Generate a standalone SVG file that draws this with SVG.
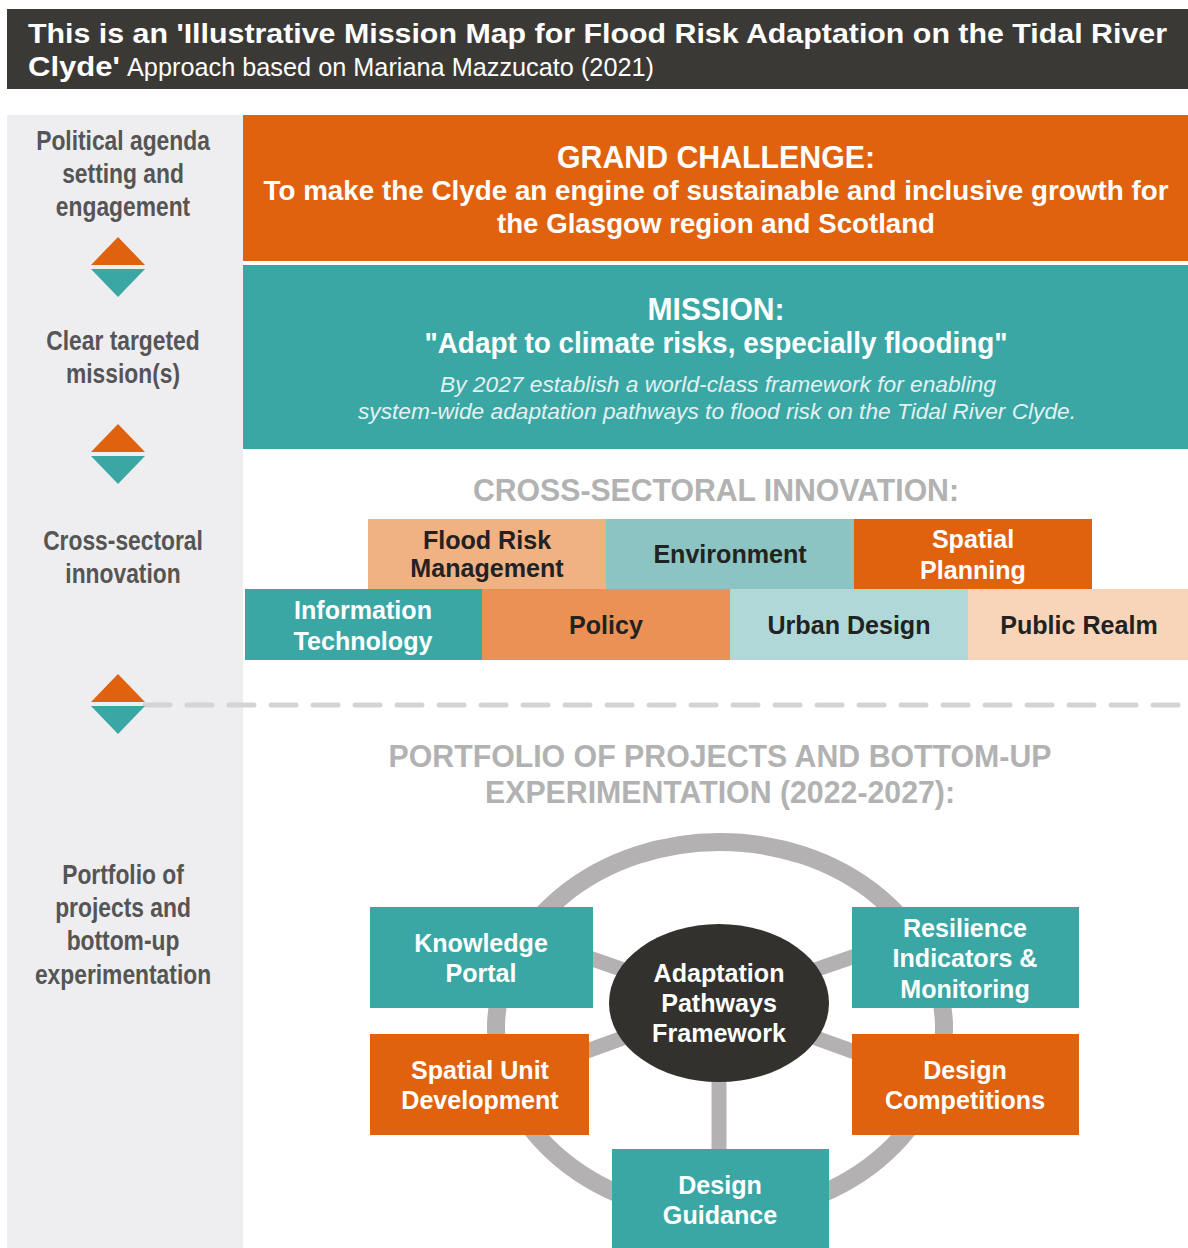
<svg xmlns="http://www.w3.org/2000/svg" width="1188" height="1248" viewBox="0 0 1188 1248">
<style>
.n{font-family:"Liberation Sans",Arial,sans-serif;font-weight:bold;text-anchor:middle}
.w{fill:#ffffff}
.d{fill:#222222}
.lbl{fill:#555555;font-size:28px}
.hd{fill:#b2b2b2;font-size:31px}
.bx{font-size:26px}
.teal{fill:#3aa7a5}
.orange{fill:#e0620e}
.ring{stroke:#b3b1b1;stroke-width:18;fill:none}
.spoke{stroke:#b3b1b1;stroke-width:15;fill:none}
</style>
<defs>
<g id="diamond">
<polygon points="-27,0 27,0 0,-28" fill="#e0620e"/>
<polygon points="-27,4 27,4 0,32" fill="#3aa7a5"/>
</g>
</defs>
<rect x="0" y="0" width="1188" height="1248" fill="#ffffff"/>
<g id="header">
<rect x="7" y="9" width="1181" height="80" fill="#3b3936"/>
<text x="28" y="43" font-family="Liberation Sans,Arial,sans-serif" font-weight="bold" font-size="27" fill="#ffffff" textLength="1139" lengthAdjust="spacingAndGlyphs">This is an 'Illustrative Mission Map for Flood Risk Adaptation on the Tidal River</text>
<text x="28" y="76" font-family="Liberation Sans,Arial,sans-serif" font-weight="bold" font-size="27" fill="#ffffff" textLength="92" lengthAdjust="spacingAndGlyphs">Clyde'</text>
<text x="127" y="76" font-family="Liberation Sans,Arial,sans-serif" font-size="25" fill="#ffffff" textLength="527" lengthAdjust="spacingAndGlyphs">Approach based on Mariana Mazzucato (2021)</text>
</g>
<g id="left-column">
<rect x="7" y="115" width="236" height="1133" fill="#eeeef0"/>
<g id="label-political" class="n lbl" transform="translate(123,0) scale(0.815,1)">
<text x="0" y="150">Political agenda</text>
<text x="0" y="183">setting and</text>
<text x="0" y="216">engagement</text>
</g>
<g id="label-mission" class="n lbl" transform="translate(123,0) scale(0.815,1)">
<text x="0" y="350">Clear targeted</text>
<text x="0" y="383">mission(s)</text>
</g>
<g id="label-cross" class="n lbl" transform="translate(123,0) scale(0.815,1)">
<text x="0" y="550">Cross-sectoral</text>
<text x="0" y="583">innovation</text>
</g>
<g id="label-portfolio" class="n lbl" transform="translate(123,0) scale(0.815,1)">
<text x="0" y="884">Portfolio of</text>
<text x="0" y="917">projects and</text>
<text x="0" y="950">bottom-up</text>
<text x="0" y="984">experimentation</text>
</g>
</g>
<line x1="145" y1="705" x2="1188" y2="705" stroke="#d4d4d6" stroke-width="5" stroke-dasharray="25,17" stroke-linecap="round"/>
<g id="diamonds">
<use href="#diamond" x="118" y="265"/>
<use href="#diamond" x="118" y="452"/>
<use href="#diamond" x="118" y="702"/>
</g>
<g id="grand-challenge">
<rect x="243" y="115" width="945" height="146" class="orange"/>
<text class="n w" x="716" y="168" font-size="32" textLength="318" lengthAdjust="spacingAndGlyphs">GRAND CHALLENGE:</text>
<text class="n w" x="716" y="200" font-size="28" textLength="905" lengthAdjust="spacingAndGlyphs">To make the Clyde an engine of sustainable and inclusive growth for</text>
<text class="n w" x="716" y="233" font-size="28" textLength="438" lengthAdjust="spacingAndGlyphs">the Glasgow region and Scotland</text>
</g>
<g id="mission">
<rect x="243" y="265" width="945" height="184" class="teal"/>
<text class="n w" x="716" y="320" font-size="32" textLength="137" lengthAdjust="spacingAndGlyphs">MISSION:</text>
<text class="n w" x="716" y="353" font-size="30" textLength="583" lengthAdjust="spacingAndGlyphs">"Adapt to climate risks, especially flooding"</text>
<text x="718" y="392" font-family="Liberation Sans,Arial,sans-serif" font-style="italic" font-size="22" fill="#e3f1f1" text-anchor="middle" textLength="556" lengthAdjust="spacingAndGlyphs">By 2027 establish a world-class framework for enabling</text>
<text x="717" y="419" font-family="Liberation Sans,Arial,sans-serif" font-style="italic" font-size="22" fill="#e3f1f1" text-anchor="middle" textLength="718" lengthAdjust="spacingAndGlyphs">system-wide adaptation pathways to flood risk on the Tidal River Clyde.</text>
</g>
<g id="cross-sectoral-title">
<text class="n hd" x="716" y="501" textLength="486" lengthAdjust="spacingAndGlyphs">CROSS-SECTORAL INNOVATION:</text>
</g>
<g id="flood-risk-management">
<rect x="368" y="519" width="238" height="70" fill="#f0b183"/>
<g class="n d bx" transform="translate(487,0) scale(0.965,1)">
<text x="0" y="549">Flood Risk</text>
<text x="0" y="577">Management</text>
</g>
</g>
<g id="environment">
<rect x="606" y="519" width="248" height="70" fill="#8cc4c3"/>
<g class="n d bx" transform="translate(730,0) scale(0.965,1)">
<text x="0" y="563">Environment</text>
</g>
</g>
<g id="spatial-planning">
<rect x="854" y="519" width="238" height="70" class="orange"/>
<g class="n w bx" transform="translate(973,0) scale(0.965,1)">
<text x="0" y="548">Spatial</text>
<text x="0" y="579">Planning</text>
</g>
</g>
<g id="information-technology">
<rect x="245" y="589" width="237" height="71" class="teal"/>
<g class="n w bx" transform="translate(363,0) scale(0.965,1)">
<text x="0" y="619">Information</text>
<text x="0" y="650">Technology</text>
</g>
</g>
<g id="policy">
<rect x="482" y="589" width="248" height="71" fill="#eb9155"/>
<g class="n d bx" transform="translate(606,0) scale(0.965,1)">
<text x="0" y="634">Policy</text>
</g>
</g>
<g id="urban-design">
<rect x="730" y="589" width="238" height="71" fill="#b1d8d8"/>
<g class="n d bx" transform="translate(849,0) scale(0.965,1)">
<text x="0" y="634">Urban Design</text>
</g>
</g>
<g id="public-realm">
<rect x="968" y="589" width="220" height="71" fill="#f8d5b9"/>
<g class="n d bx" transform="translate(1079,0) scale(0.965,1)">
<text x="0" y="634">Public Realm</text>
</g>
</g>
<g id="portfolio-title">
<text class="n hd" x="720" y="767" textLength="663" lengthAdjust="spacingAndGlyphs">PORTFOLIO OF PROJECTS AND BOTTOM-UP</text>
<text class="n hd" x="720" y="803" textLength="470" lengthAdjust="spacingAndGlyphs">EXPERIMENTATION (2022-2027):</text>
</g>
<g id="connectors">
<ellipse cx="720" cy="1028" rx="224" ry="186" class="ring"/>
<line x1="719" y1="1003" x2="480" y2="920" class="spoke"/>
<line x1="719" y1="1003" x2="960" y2="920" class="spoke"/>
<line x1="719" y1="1003" x2="480" y2="1090" class="spoke"/>
<line x1="719" y1="1003" x2="960" y2="1090" class="spoke"/>
<line x1="719" y1="1003" x2="719" y2="1200" class="spoke"/>
</g>
<g id="knowledge-portal">
<rect x="370" y="907" width="223" height="101" class="teal"/>
<g class="n w bx" transform="translate(481,0) scale(0.965,1)">
<text x="0" y="952">Knowledge</text>
<text x="0" y="982">Portal</text>
</g>
</g>
<g id="resilience-indicators">
<rect x="852" y="907" width="227" height="101" class="teal"/>
<g class="n w bx" transform="translate(965,0) scale(0.965,1)">
<text x="0" y="937">Resilience</text>
<text x="0" y="967">Indicators &amp;</text>
<text x="0" y="998">Monitoring</text>
</g>
</g>
<g id="spatial-unit-development">
<rect x="370" y="1034" width="219" height="101" class="orange"/>
<g class="n w bx" transform="translate(480,0) scale(0.965,1)">
<text x="0" y="1079">Spatial Unit</text>
<text x="0" y="1109">Development</text>
</g>
</g>
<g id="design-competitions">
<rect x="852" y="1034" width="227" height="101" class="orange"/>
<g class="n w bx" transform="translate(965,0) scale(0.965,1)">
<text x="0" y="1079">Design</text>
<text x="0" y="1109">Competitions</text>
</g>
</g>
<g id="design-guidance">
<rect x="612" y="1149" width="217" height="99" class="teal"/>
<g class="n w bx" transform="translate(720,0) scale(0.965,1)">
<text x="0" y="1194">Design</text>
<text x="0" y="1224">Guidance</text>
</g>
</g>
<g id="adaptation-pathways-framework">
<ellipse cx="719" cy="1003" rx="110" ry="79" fill="#33312e"/>
<g class="n w bx" transform="translate(719,0) scale(0.965,1)">
<text x="0" y="982">Adaptation</text>
<text x="0" y="1012">Pathways</text>
<text x="0" y="1042">Framework</text>
</g>
</g>
</svg>
